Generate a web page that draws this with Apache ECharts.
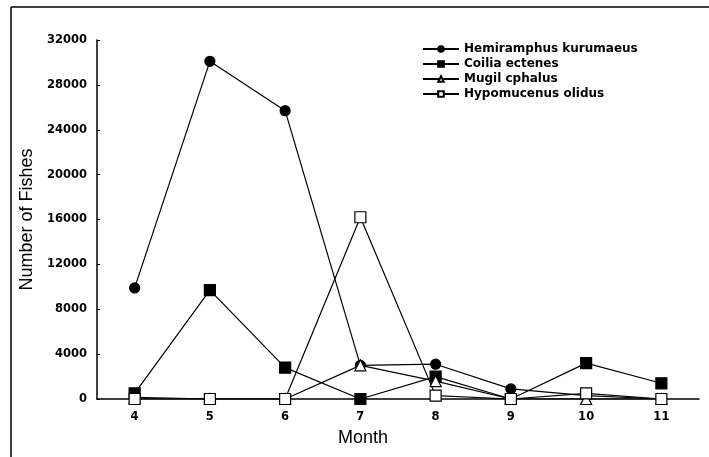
<!DOCTYPE html>
<html>
<head>
<meta charset="utf-8">
<script src="https://cdn.jsdelivr.net/npm/echarts@6/dist/echarts.min.js"></script>
<style>html,body{margin:0;padding:0;background:#fff}#c{width:709px;height:457px}</style>
</head>
<body>
<div id="c"></div>
<script>
const months = ['4', '5', '6', '7', '8', '9', '10', '11'];
const hemiramphus = [9900, 30100, 25700, 3000, 3100, 900, 300, 0];
const coilia = [500, 9700, 2800, 0, 2000, 0, 3200, 1400];
const mugil = [150, 0, 0, 3000, 1600, 0, 0, 0];
const hypomucenus = [0, 0, 0, 16200, 300, 0, 500, 0];
const yTicks = [0, 4000, 8000, 12000, 16000, 20000, 24000, 28000, 32000];

const tickFont = { fontFamily: 'DejaVu Sans', fontWeight: 'bold', fontSize: 11.5, color: '#000' };
function mk(name, data, symbol, filled, size) {
  return {
    name: name, type: 'line', data: data, symbol: symbol, symbolSize: size,
    lineStyle: { color: '#000', width: 1.2 },
    itemStyle: { color: filled ? '#000' : '#fff', borderColor: '#000', borderWidth: 1.2 },
    emphasis: { disabled: true }, animation: false
  };
}
const chart = echarts.init(document.getElementById('c'));
chart.setOption({
  animation: false,
  grid: { left: 97, right: 10, top: 40, bottom: 58 },
  legend: {
    orient: 'vertical', left: 417, top: 38, itemGap: 3, itemWidth: 36, itemHeight: 7,
    textStyle: { fontFamily: 'DejaVu Sans', fontWeight: 'bold', fontSize: 12, color: '#000' },
    data: ['Hemiramphus kurumaeus', 'Coilia ectenes', 'Mugil cphalus', 'Hypomucenus olidus']
  },
  xAxis: {
    type: 'category', data: months, boundaryGap: true,
    name: 'Month', nameLocation: 'middle', nameGap: 30,
    nameTextStyle: { fontFamily: 'Liberation Sans', fontSize: 18, color: '#000', padding: [0, 70, 0, 0] },
    axisLine: { lineStyle: { color: '#000', width: 1.5 } },
    axisTick: { inside: true, length: 4, lineStyle: { color: '#000' } },
    axisLabel: Object.assign({ margin: 12 }, tickFont),
    splitLine: { show: false }
  },
  yAxis: {
    type: 'value', min: 0, max: 32000, interval: 4000,
    name: 'Number of Fishes', nameLocation: 'middle', nameGap: 58,
    nameTextStyle: { fontFamily: 'Liberation Sans', fontSize: 18, color: '#000' },
    axisLine: { show: true, lineStyle: { color: '#000', width: 1.5 } },
    axisTick: { show: true, inside: true, length: 3, lineStyle: { color: '#000' } },
    axisLabel: Object.assign({ margin: 10, formatter: v => yTicks.includes(v) ? String(v) : '' }, tickFont),
    splitLine: { show: false }
  },
  graphic: [
    { type: 'line', shape: { x1: 11, y1: 7, x2: 709, y2: 7 }, style: { stroke: '#000', lineWidth: 1.5 } },
    { type: 'line', shape: { x1: 11, y1: 7, x2: 11, y2: 457 }, style: { stroke: '#000', lineWidth: 1.5 } }
  ],
  series: [
    mk('Hemiramphus kurumaeus', hemiramphus, 'circle', true, 10),
    mk('Coilia ectenes', coilia, 'rect', true, 11),
    mk('Mugil cphalus', mugil, 'triangle', false, 11),
    mk('Hypomucenus olidus', hypomucenus, 'rect', false, 11)
  ]
});
</script>
</body>
</html>
